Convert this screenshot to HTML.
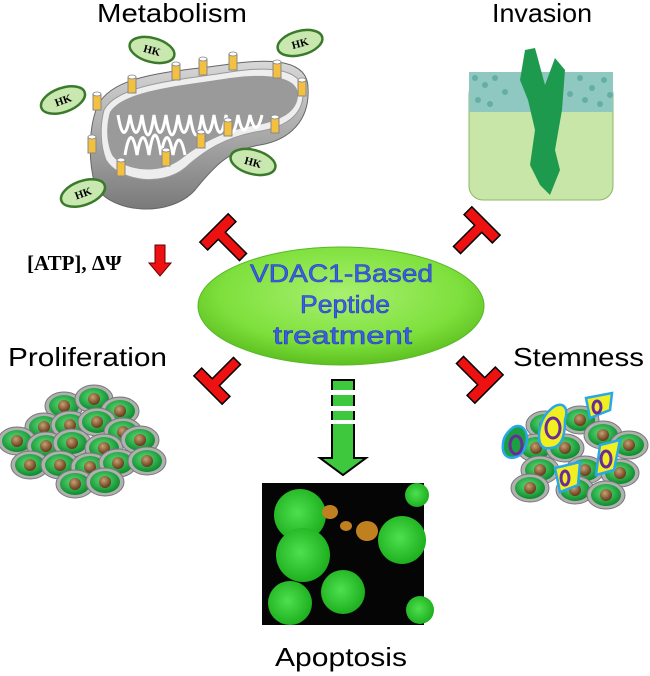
<!DOCTYPE html>
<html><head><meta charset="utf-8"><style>
html,body{margin:0;padding:0;background:#fff;}
svg{display:block;}
.t{font-family:"Liberation Sans","DejaVu Sans",sans-serif;font-size:26px;fill:#000;}
</style></head><body>
<svg width="650" height="676" viewBox="0 0 650 676" xmlns="http://www.w3.org/2000/svg">
<defs>
<radialGradient id="gel" cx="50%" cy="40%" r="60%"><stop offset="0" stop-color="#a8f070"/><stop offset="0.7" stop-color="#7ee03c"/><stop offset="1" stop-color="#5cc020"/></radialGradient>
<radialGradient id="cell" cx="45%" cy="40%" r="60%"><stop offset="0" stop-color="#5fe07a"/><stop offset="1" stop-color="#0c8a2c"/></radialGradient>
<radialGradient id="nuc" cx="40%" cy="35%" r="60%"><stop offset="0" stop-color="#c9a070"/><stop offset="1" stop-color="#6a4020"/></radialGradient>
<radialGradient id="apo" cx="45%" cy="45%" r="55%"><stop offset="0" stop-color="#4ee04e"/><stop offset="1" stop-color="#1eb01e"/></radialGradient>
<linearGradient id="mito" x1="0" y1="0" x2="0" y2="1"><stop offset="0" stop-color="#d8d8d8"/><stop offset="1" stop-color="#7a7a7a"/></linearGradient>
<g id="c"><ellipse rx="19" ry="14" fill="#b0b0b0" stroke="#777" stroke-width="1"/><ellipse rx="15" ry="11" fill="url(#cell)"/><circle r="6" fill="url(#nuc)"/></g>
<g id="T"><polygon points="-5,0 5,0 5,-30 20,-30 20,-41 -20,-41 -20,-30 -5,-30" fill="#ee1111" stroke="#000" stroke-width="1.5"/></g>
<g id="hk"><ellipse rx="23" ry="12" fill="#c8e8b0" stroke="#3a7a2a" stroke-width="2.5"/><text y="4" text-anchor="middle" font-family="Liberation Serif,serif" font-weight="bold" font-size="11">HK</text></g>
<g id="v"><rect x="-4" y="-8" width="8" height="16" fill="#f3c040" stroke="#888" stroke-width="1"/><ellipse cy="-8" rx="4" ry="2" fill="#fff" stroke="#888" stroke-width="0.8"/></g>
</defs>

<!-- titles -->
<text class="t" x="97" y="22" textLength="150" lengthAdjust="spacingAndGlyphs">Metabolism</text>
<text class="t" x="492" y="22" textLength="100" lengthAdjust="spacingAndGlyphs">Invasion</text>
<text class="t" x="8" y="366" textLength="159" lengthAdjust="spacingAndGlyphs">Proliferation</text>
<text class="t" x="513" y="366" textLength="131" lengthAdjust="spacingAndGlyphs">Stemness</text>
<text class="t" x="275" y="666" textLength="132" lengthAdjust="spacingAndGlyphs">Apoptosis</text>

<!-- mitochondrion -->
<path d="M96,110 C108,72 180,72 230,64 C272,58 308,60 308,88 C310,120 290,140 260,145 C230,150 215,165 195,190 C170,218 110,214 95,185 C88,160 89,130 96,110 Z" fill="url(#mito)" stroke="#666" stroke-width="1"/>
<path d="M104,110 C118,84 180,80 230,72 C268,66 300,68 303,90 C305,115 285,128 255,132 C225,138 205,150 185,168 C160,188 118,180 106,160 C100,145 100,125 104,110 Z" fill="#eee" stroke="#999"/>
<path d="M110,112 C124,90 180,86 230,78 C265,73 296,76 298,93 C299,112 280,122 252,126 C222,132 200,144 180,160 C158,176 122,170 112,155 C106,142 106,125 110,112 Z" fill="#9a9a9a"/>
<path d="M118,115 q6,35 12,0 q6,35 12,0 q6,40 12,0 q6,35 12,0 q6,40 12,0 q6,35 12,0 q6,40 12,0 q6,35 12,0 q6,35 12,0 q6,35 12,0 q6,30 12,0 q6,25 12,0 M125,155 q6,-35 12,0 q6,-35 12,0 q6,-40 12,0 q6,-35 12,0 q6,-30 12,0" fill="none" stroke="#fff" stroke-width="3"/>
<use href="#v" x="97" y="102"/><use href="#v" x="132" y="85"/><use href="#v" x="176" y="72"/><use href="#v" x="203" y="67"/><use href="#v" x="233" y="62"/><use href="#v" x="277" y="70"/><use href="#v" x="302" y="88"/><use href="#v" x="92" y="145"/><use href="#v" x="121" y="168"/><use href="#v" x="166" y="158"/><use href="#v" x="201" y="140"/><use href="#v" x="228" y="128"/><use href="#v" x="275" y="125"/>
<use href="#hk" x="152" y="50" transform="rotate(15 152 50)"/>
<use href="#hk" x="300" y="43" transform="rotate(-15 300 43)"/>
<use href="#hk" x="63" y="100" transform="rotate(-20 63 100)"/>
<use href="#hk" x="253" y="162" transform="rotate(15 253 162)"/>
<use href="#hk" x="83" y="193" transform="rotate(-20 83 193)"/>

<!-- ATP -->
<text x="27" y="270" font-family="Liberation Serif,serif" font-weight="bold" font-size="21">[ATP], ΔΨ</text>
<polygon points="155,245 165,245 165,263 171,263 160,276 149,263 155,263" fill="#ee1111" stroke="#600" stroke-width="1"/>

<!-- invasion -->
<rect x="469" y="80" width="144" height="120" rx="14" fill="#c8e6a8" stroke="#8cb868"/>
<rect x="469" y="72" width="144" height="40" fill="#8fc8c0"/>
<g fill="#5aa8a0" opacity="0.8">
<circle cx="475" cy="78" r="3"/><circle cx="485" cy="85" r="3"/><circle cx="495" cy="78" r="3"/><circle cx="505" cy="92" r="3"/><circle cx="478" cy="100" r="3"/><circle cx="490" cy="104" r="3"/><circle cx="580" cy="78" r="3"/><circle cx="592" cy="88" r="3"/><circle cx="604" cy="80" r="3"/><circle cx="585" cy="100" r="3"/><circle cx="600" cy="104" r="3"/><circle cx="570" cy="94" r="3"/><circle cx="610" cy="95" r="3"/>
</g>
<path d="M525,50 L535,48 L545,85 L555,58 L565,70 L562,110 L555,150 L560,170 L550,195 L540,185 L530,165 L535,130 L528,100 L520,80 Z" fill="#1e9a4e"/>

<!-- ellipse -->
<ellipse cx="341" cy="306" rx="143" ry="59" fill="url(#gel)" stroke="#58b828" stroke-width="1"/>
<g font-family="Liberation Sans,sans-serif" font-size="25" fill="#3a5ee8" stroke="#2a44b0" stroke-width="0.6" lengthAdjust="spacingAndGlyphs">
<text x="250" y="282" textLength="183" lengthAdjust="spacingAndGlyphs">VDAC1-Based</text><text x="300" y="313" textLength="90" lengthAdjust="spacingAndGlyphs">Peptide</text><text x="273" y="344" textLength="139" lengthAdjust="spacingAndGlyphs">treatment</text></g>

<!-- inhibitors -->
<use href="#T" transform="translate(243,257) rotate(-45)"/>
<use href="#T" transform="translate(457,250) rotate(45)"/>
<use href="#T" transform="translate(237,361) rotate(-135)"/>
<use href="#T" transform="translate(460,360) rotate(135)"/>

<!-- down arrow -->
<path d="M332,380 L354,380 L354,458 L366,458 L343,475 L320,458 L332,458 Z" fill="#3ec83e" stroke="#000" stroke-width="2"/>
<rect x="330" y="390" width="26" height="5" fill="#fff"/><rect x="330" y="406" width="26" height="5" fill="#fff"/><rect x="330" y="420" width="26" height="4" fill="#fff"/>

<!-- apoptosis image -->
<rect x="262" y="483" width="162" height="142" fill="#050505"/>
<g fill="url(#apo)">
<circle cx="300" cy="515" r="26"/><circle cx="303" cy="555" r="27"/><circle cx="290" cy="603" r="22"/><circle cx="343" cy="592" r="22"/><circle cx="402" cy="540" r="24"/><circle cx="417" cy="495" r="12"/><circle cx="420" cy="610" r="14"/>
</g>
<g fill="#c08020"><ellipse cx="330" cy="512" rx="8" ry="7"/><ellipse cx="346" cy="526" rx="6" ry="5"/><ellipse cx="367" cy="531" rx="11" ry="10"/></g>

<!-- proliferation cells -->
<use href="#c" x="64" y="406"/><use href="#c" x="94" y="399"/><use href="#c" x="120" y="411"/><use href="#c" x="44" y="427"/><use href="#c" x="70" y="425"/><use href="#c" x="97" y="422"/><use href="#c" x="123" y="432"/><use href="#c" x="17" y="441"/><use href="#c" x="46" y="446"/><use href="#c" x="72" y="443"/><use href="#c" x="104" y="448"/><use href="#c" x="140" y="440"/><use href="#c" x="30" y="465"/><use href="#c" x="60" y="465"/><use href="#c" x="90" y="467"/><use href="#c" x="118" y="463"/><use href="#c" x="147" y="461"/><use href="#c" x="75" y="484"/><use href="#c" x="105" y="482"/>

<!-- stemness cells -->
<use href="#c" x="580" y="420"/><use href="#c" x="545" y="425"/><use href="#c" x="603" y="435"/><use href="#c" x="536" y="448"/><use href="#c" x="565" y="448"/><use href="#c" x="629" y="445"/><use href="#c" x="540" y="470"/><use href="#c" x="585" y="470"/><use href="#c" x="620" y="473"/><use href="#c" x="575" y="490"/><use href="#c" x="606" y="495"/><use href="#c" x="530" y="488"/>
<g stroke="#28a8e8" stroke-width="2.5" fill="#f0f020">
<path d="M550,410 C560,400 570,405 565,420 C565,440 560,450 545,448 C535,445 538,420 550,410 Z"/>
<path d="M510,430 C520,420 530,430 526,445 C522,460 505,462 503,450 C502,440 505,435 510,430 Z" fill="#1aa040"/>
<path d="M586,398 L612,393 L610,410 L590,418 Z"/>
<path d="M600,445 L620,440 L614,470 L596,475 Z"/>
<path d="M555,468 L580,462 L578,485 L560,492 Z"/>
</g>
<g fill="none" stroke="#6a2a9a" stroke-width="3">
<ellipse cx="553" cy="428" rx="7" ry="10"/><ellipse cx="516" cy="445" rx="6" ry="9"/><ellipse cx="597" cy="407" rx="4" ry="6"/><ellipse cx="606" cy="459" rx="5" ry="8"/><ellipse cx="565" cy="478" rx="4" ry="7"/>
</g>
</svg>
</body></html>
